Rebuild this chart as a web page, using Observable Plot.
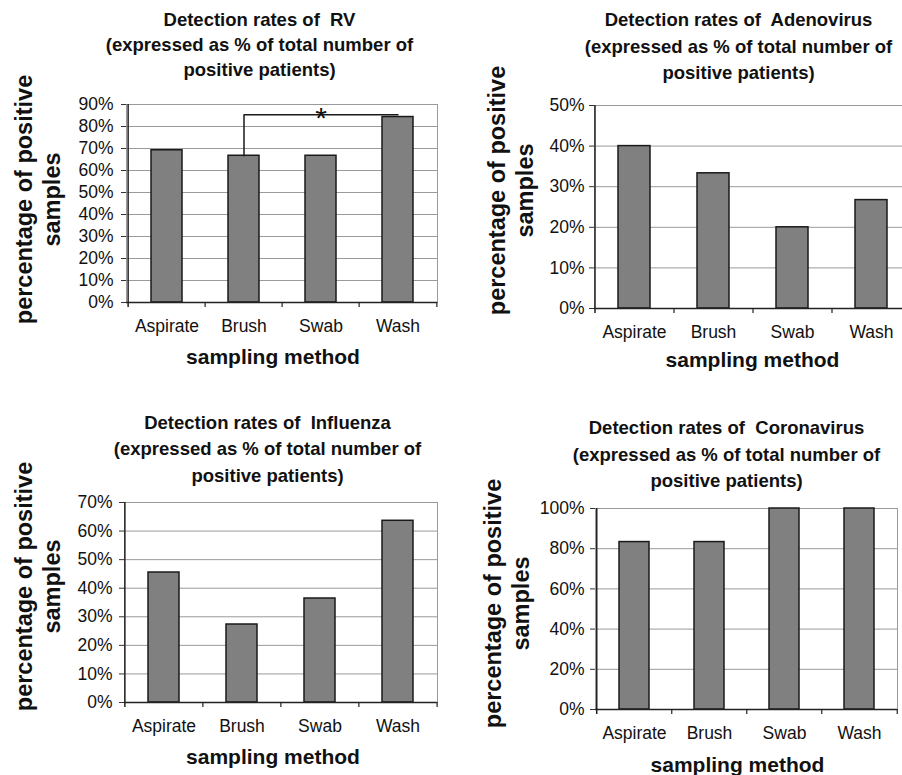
<!DOCTYPE html>
<html><head><meta charset="utf-8">
<script src="https://cdn.jsdelivr.net/npm/d3@7"></script>
<script src="https://cdn.jsdelivr.net/npm/@observablehq/plot@0.6"></script>
<style>
html,body{margin:0;padding:0;background:#fff;}
#page{position:relative;width:902px;height:775px;overflow:hidden;background:#fff;}
#page > svg{position:absolute;}
svg text{white-space:pre;}
</style></head><body><div id="page"></div>
<script>
// ---- data ----
const methods = ["Aspirate", "Brush", "Swab", "Wash"];
const rvRates = [69.2, 66.7, 66.7, 84.3];
const adenovirusRates = [40.0, 33.3, 20.0, 26.7];
const influenzaRates = [45.5, 27.3, 36.4, 63.6];
const coronavirusRates = [83.3, 83.3, 100, 100];
const rvTicks = [0, 10, 20, 30, 40, 50, 60, 70, 80, 90];
const adenovirusTicks = [0, 10, 20, 30, 40, 50];
const influenzaTicks = [0, 10, 20, 30, 40, 50, 60, 70];
const coronavirusTicks = [0, 20, 40, 60, 80, 100];
const virusNames = ["RV", "Adenovirus", "Influenza", "Coronavirus"];
const yAxisTitle = "percentage of positive\nsamples";
const xAxisTitle = "sampling method";
const bracketMethods = ["Brush", "Brush", "Wash"];
const bracketLevels = [66.7, 85.3, 85.3];
const significanceMark = "*";
const significanceMethod = "Swab";
const significanceLevel = 85.3;

const titleOf = name => `Detection rates of  ${name}\n(expressed as % of total number of\npositive patients)`;

// ---- layout (pixels, panel-local) ----
const panels = [
  {name: virusNames[0], rates: rvRates, ticks: rvTicks, left: 0, top: 0, width: 451, height: 380,
   m: {l: 126, r: 14, t: 104, b: 78}, title: {x: 259, base: 25, gap: 25}, ylab: {cx: 25, cy: 199},
   xlab: {x: 272.5, base: 363}, tickGap: 8, bracket: true},
  {name: virusNames[1], rates: adenovirusRates, ticks: adenovirusTicks, left: 451, top: 0, width: 460, height: 380,
   m: {l: 143, r: 1, t: 105, b: 72}, title: {x: 287, base: 26, gap: 26.5}, ylab: {cx: 47, cy: 190},
   xlab: {x: 301, base: 366}, tickGap: 5},
  {name: virusNames[2], rates: influenzaRates, ticks: influenzaTicks, left: 0, top: 380, width: 451, height: 395,
   m: {l: 124, r: 14, t: 122, b: 73}, title: {x: 267, base: 48.3, gap: 26.7}, ylab: {cx: 25, cy: 206},
   xlab: {x: 272.5, base: 383}, tickGap: 7},
  {name: virusNames[3], rates: coronavirusRates, ticks: coronavirusTicks, left: 451, top: 380, width: 451, height: 395,
   m: {l: 144, r: 5, t: 128, b: 66}, title: {x: 275, base: 54, gap: 26.3}, ylab: {cx: 43, cy: 223},
   xlab: {x: 286, base: 391}, tickGap: 6}
];

const FONT = "'Liberation Sans', Arial, Helvetica, sans-serif";
const INK = "#111";
const page = document.getElementById("page");

for (const p of panels) {
  const data = methods.map((method, i) => ({method, rate: p.rates[i]}));
  const {l, r, t, b} = p.m;
  const step = (p.width - l - r) / methods.length;
  const at = (px, py) => ({frameAnchor: "top-left", dx: px - l, dy: py - t});

  const titleFs = 18.5, titleLh = p.title.gap / titleFs;
  const ylabFs = 23.5, ylabLh = 28 / ylabFs;
  const xlabFs = 21;

  const marks = [
    Plot.frame({stroke: "#9a9a9a", strokeWidth: 1}),
    Plot.gridY(p.ticks, {stroke: "#9a9a9a", strokeOpacity: 1, strokeWidth: 1}),
    Plot.barY(data, {x: "method", y: "rate", fill: "#808080", stroke: "#1a1a1a", strokeWidth: 1.5}),
    Plot.ruleY([0], {stroke: "#222", strokeWidth: 1.5}),
    Plot.ruleX([methods[0]], {dx: -step / 2, stroke: "#222", strokeWidth: 1.5, insetBottom: -5}),
    Plot.ruleX(methods.slice(1), {dx: -step / 2, y1: 0, y2: 0, insetBottom: -5, stroke: "#222", strokeWidth: 1.2}),
    Plot.ruleX([methods[methods.length - 1]], {dx: step / 2, y1: 0, y2: 0, insetBottom: -5, stroke: "#222", strokeWidth: 1.2}),
    Plot.axisY({ticks: p.ticks, tickSize: 5, tickPadding: p.tickGap, tickFormat: d => `${d}%`,
      fontSize: 17.5, stroke: "#333", fill: INK, label: null}),
    Plot.axisX({tickSize: 0, tickPadding: 29 - 0.71 * 17.5, fontSize: 17.5, fill: INK, label: null}),
    // title
    Plot.text([titleOf(p.name)], {text: d => d, ...at(p.title.x, p.title.base - 0.71 * titleLh * titleFs),
      textAnchor: "middle", lineAnchor: "top", lineHeight: titleLh, fontSize: titleFs, fontWeight: "bold", fill: INK}),
    // y axis title
    Plot.text([yAxisTitle], {text: d => d,
      ...at(p.ylab.cx + 0.26 * ylabFs - 0.71 * ylabLh * ylabFs, p.ylab.cy),
      rotate: -90, textAnchor: "middle", lineAnchor: "top", lineHeight: ylabLh, fontSize: ylabFs, fontWeight: "bold", fill: INK}),
    // x axis title
    Plot.text([xAxisTitle], {text: d => d, ...at(p.xlab.x, p.xlab.base - 0.71 * xlabFs),
      textAnchor: "middle", lineAnchor: "top", fontSize: xlabFs, fontWeight: "bold", fill: INK})
  ];

  if (p.bracket) {
    const bracket = bracketMethods.map((method, i) => ({method, level: bracketLevels[i]}));
    marks.push(Plot.line(bracket, {x: "method", y: "level", stroke: "#1a1a1a", strokeWidth: 1.5}));
    marks.push(Plot.text([{method: significanceMethod, level: significanceLevel, t: significanceMark}],
      {x: "method", y: "level", text: "t", lineAnchor: "top", dy: -8, fontSize: 30, fill: INK}));
  }

  const svg = Plot.plot({
    width: p.width, height: p.height,
    marginLeft: l, marginRight: r, marginTop: t, marginBottom: b,
    x: {domain: methods, paddingInner: 0.6, paddingOuter: 0.3, axis: null},
    y: {domain: [0, p.ticks[p.ticks.length - 1]], axis: null},
    style: {fontFamily: FONT, fontSize: "17.5px", color: INK, background: "transparent", overflow: "visible"},
    marks
  });
  svg.style.left = p.left + "px";
  svg.style.top = p.top + "px";
  page.appendChild(svg);
}
</script></body></html>
